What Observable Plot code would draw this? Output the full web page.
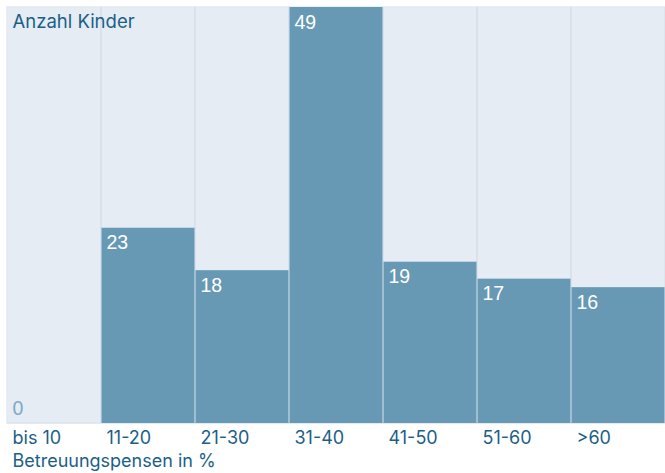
<!DOCTYPE html>
<html><head><meta charset="utf-8">
<script src="https://cdn.jsdelivr.net/npm/d3@7"></script>
<script src="https://cdn.jsdelivr.net/npm/@observablehq/plot@0.6"></script>
<style>body{margin:0;background:#fff}</style>
</head><body><div id="chart"></div>
<script>
const categories = ["bis 10","11-20","21-30","31-40","41-50","51-60",">60"];
const counts = [0,23,18,49,19,17,16];
const yLabel = "Anzahl Kinder";
const xLabel = "Betreuungspensen in %";

const data = categories.map((c,i)=>({cat:c, n:counts[i]}));
const font = "Inter, 'Liberation Sans', sans-serif";
const textCol = "#1b5f87";

const chart = Plot.plot({
  width: 665, height: 473,
  marginTop: 7, marginLeft: 7, marginRight: 0, marginBottom: 50,
  style: {fontFamily: font, fontSize: "18px", background: "#fff"},
  x: {domain: categories, padding: 0, label: null},
  y: {domain: [0, 49], axis: null},
  marks: [
    Plot.frame({fill: "#e5ecf3", stroke: null}),
    Plot.barY(categories, {x: d=>d, y1: 0, y2: 49, fill: "none", stroke: "#d4dfe9", strokeWidth: 1}),
    Plot.barY(data, {x: "cat", y: "n", fill: "#6799b5", insetLeft: 0.5, insetRight: 0.5}),
    Plot.text(data.filter(d=>d.n>0), {x: "cat", y: "n", text: d=>String(d.n), textAnchor: "start", dx: -42, dy: 15,
      fill: "#ffffff", fontFamily: "'Liberation Sans', sans-serif", fontSize: 19.5}),
    Plot.text(data.filter(d=>d.n===0), {x: "cat", y: "n", text: d=>String(d.n), textAnchor: "start", dx: -42, dy: -15,
      fill: "#7eaac5", fontFamily: "'Liberation Sans', sans-serif", fontSize: 19.5}),
    Plot.text([yLabel], {frameAnchor: "top-left", dx: 5, dy: 7, fill: textCol, textAnchor: "start", fontSize: 18.5}),
    Plot.axisX({tickSize: 0, tickPadding: 8, textAnchor: "start", dx: -42, fill: textCol, fontSize: 18, label: null}),
    Plot.text([xLabel], {frameAnchor: "bottom-left", dx: 5, dy: 43, fill: textCol, textAnchor: "start", fontSize: 18})
  ]
});
document.getElementById("chart").appendChild(chart);
</script></body></html>
